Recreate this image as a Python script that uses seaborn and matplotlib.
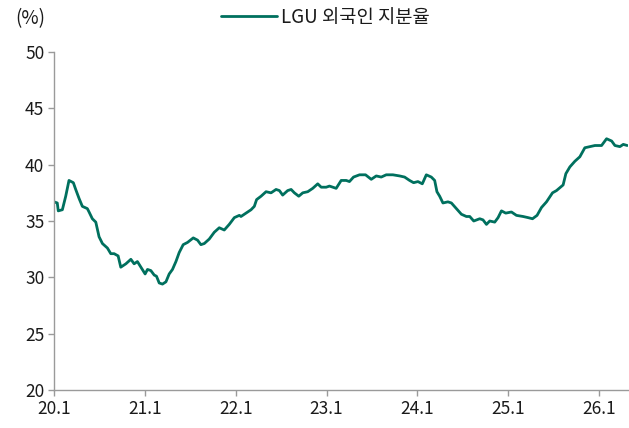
import numpy as np
import pandas as pd
import matplotlib
matplotlib.use("Agg")
import matplotlib.pyplot as plt
import matplotlib.dates as mdates
import seaborn as sns

# decimal years since 2020-01-01
t_years = [0.000, 0.036, 0.047, 0.092, 0.129, 0.165, 0.213, 0.239, 0.276, 0.312,
           0.367, 0.386, 0.422, 0.460, 0.496, 0.533, 0.588, 0.625, 0.662, 0.706,
           0.735, 0.791, 0.846, 0.882, 0.918, 0.956, 1.003, 1.029, 1.066, 1.103,
           1.128, 1.158, 1.194, 1.232, 1.268, 1.304, 1.342, 1.378, 1.422, 1.470,
           1.533, 1.580, 1.617, 1.654, 1.709, 1.764, 1.819, 1.874, 1.929, 1.985,
           2.040, 2.058, 2.114, 2.169, 2.205, 2.230, 2.279, 2.334, 2.389, 2.444,
           2.481, 2.517, 2.572, 2.610, 2.646, 2.694, 2.738, 2.793, 2.848, 2.903,
           2.941, 2.996, 3.032, 3.068, 3.106, 3.161, 3.216, 3.252, 3.297, 3.363,
           3.429, 3.492, 3.547, 3.602, 3.657, 3.730, 3.804, 3.859, 3.914, 3.958,
           4.006, 4.054, 4.098, 4.153, 4.190, 4.215, 4.245, 4.281, 4.336, 4.374,
           4.429, 4.484, 4.539, 4.576, 4.620, 4.686, 4.722, 4.760, 4.796, 4.851,
           4.888, 4.925, 4.972, 5.035, 5.090, 5.163, 5.218, 5.267, 5.317, 5.366,
           5.421, 5.487, 5.531, 5.604, 5.634, 5.678, 5.733, 5.788, 5.843, 5.898,
           5.954, 6.027, 6.082, 6.138, 6.174, 6.229, 6.266, 6.310]
share = [36.7, 36.6, 35.9, 36.0, 37.2, 38.6, 38.4, 37.8, 37.0, 36.3,
         36.1, 35.8, 35.2, 34.9, 33.6, 33.0, 32.6, 32.1, 32.1, 31.9,
         30.9, 31.2, 31.6, 31.2, 31.4, 30.9, 30.3, 30.7, 30.6, 30.2,
         30.1, 29.5, 29.4, 29.6, 30.3, 30.7, 31.4, 32.2, 32.9, 33.1,
         33.5, 33.3, 32.9, 33.0, 33.4, 34.0, 34.4, 34.2, 34.7, 35.3,
         35.5, 35.4, 35.7, 36.0, 36.3, 36.9, 37.2, 37.6, 37.5, 37.8,
         37.7, 37.3, 37.7, 37.8, 37.5, 37.2, 37.5, 37.6, 37.9, 38.3,
         38.0, 38.0, 38.1, 38.0, 37.9, 38.6, 38.6, 38.5, 38.9, 39.1,
         39.1, 38.7, 39.0, 38.9, 39.1, 39.1, 39.0, 38.9, 38.6, 38.4,
         38.5, 38.3, 39.1, 38.9, 38.6, 37.6, 37.2, 36.6, 36.7, 36.6,
         36.1, 35.6, 35.4, 35.4, 35.0, 35.2, 35.1, 34.7, 35.0, 34.9,
         35.3, 35.9, 35.7, 35.8, 35.5, 35.4, 35.3, 35.2, 35.5, 36.2,
         36.7, 37.5, 37.7, 38.2, 39.2, 39.8, 40.3, 40.7, 41.5, 41.6,
         41.7, 41.7, 42.3, 42.1, 41.7, 41.6, 41.8, 41.7]
series_name = "LGU 외국인 지분율"
y_ticks = [20, 25, 30, 35, 40, 45, 50]
x_tick_years = [2020, 2021, 2022, 2023, 2024, 2025, 2026]

sns.set_theme(style="white")
plt.rcParams['font.family'] = ['Noto Sans CJK KR', 'DejaVu Sans']
plt.rcParams['font.weight'] = 'light'

base = pd.Timestamp("2020-01-01")
dates = [base + pd.Timedelta(days=float(t) * 365.25) for t in t_years]
df = pd.DataFrame({"date": dates, "value": share})

fig = plt.figure(figsize=(6.29, 4.28), dpi=100)
ax = fig.add_axes([54 / 629, 1 - 390 / 428, (628 - 54) / 629, (390 - 52) / 428])

color = "#00705E"
sns.lineplot(data=df, x="date", y="value", ax=ax, color=color, linewidth=2.0,
             label=series_name)

ax.set_xlim(base, base + pd.Timedelta(days=6.318 * 365.25))
ax.set_ylim(20, 50)
ax.set_yticks(y_ticks)
ax.set_xticks([pd.Timestamp(f"{y}-01-01") for y in x_tick_years])
ax.xaxis.set_major_formatter(plt.FuncFormatter(
    lambda v, p: f"{mdates.num2date(v).year % 100}.{mdates.num2date(v).month}"))
ax.set_xlabel("")
ax.set_ylabel("")

for s in ["top", "right"]:
    ax.spines[s].set_visible(False)
for s in ["left", "bottom"]:
    ax.spines[s].set_color("#9a9a9a")
    ax.spines[s].set_linewidth(1.0)
ax.tick_params(axis="both", which="major", direction="out", length=4, width=1,
               color="#9a9a9a", labelsize=12.5, labelcolor="#1a1a1a", pad=3,
               left=True, bottom=True)

fig.text(15 / 629, 1 - 19 / 428, "(%)", fontsize=13.5, color="#1a1a1a",
         va="center", ha="left")

leg = ax.legend(loc="center", bbox_to_anchor=(325 / 629, 1 - 17 / 428),
                bbox_transform=fig.transFigure, frameon=False, fontsize=13.5,
                handlelength=3.0, handletextpad=0.2)
for txt in leg.get_texts():
    txt.set_color("#1a1a1a")

fig.savefig("out.png", dpi=100)
